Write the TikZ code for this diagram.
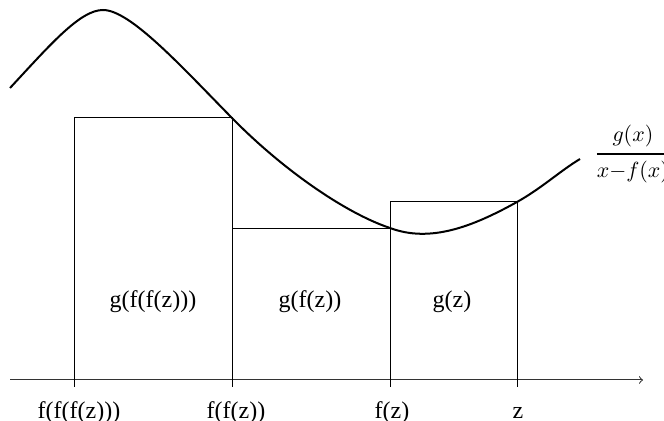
\documentclass[tikz,border=0pt]{standalone}
\usepackage{amsmath}
\usepackage{fontspec}
\setmainfont{Liberation Serif}
\begin{document}
\begin{tikzpicture}[x=0.5pt,y=-0.5pt,
  curveline/.style={line width=1pt, line join=round},
  boxline/.style={line width=0.5pt},
  axisline/.style={line width=0.5pt, black!80, ->},
  lbl/.style={font=\fontsize{12}{14}\selectfont, inner sep=0pt}]
\useasboundingbox (0,0) rectangle (664,421);
% axis
\coordinate (axL) at (10,380);
\coordinate (axR) at (643,380);
\draw[axisline] (axL) -- (axR);
% tick/box corner coordinates
\coordinate (b1) at (74,387);
\coordinate (b2) at (232,387);
\coordinate (b3) at (390,387);
\coordinate (b4) at (517,387);
\coordinate (c1) at (74,118);
\coordinate (c2) at (232,118);
\coordinate (d1) at (232,229);
\coordinate (d2) at (390,229);
\coordinate (e1) at (390,202);
\coordinate (e2) at (517,202);
% boxes
\draw[boxline] (b1) -- (c1) -- (c2) -- (b2);
\draw[boxline] (b2) -- (d1) -- (d2) -- (b3);
\draw[boxline] (b3) -- (e1) -- (e2) -- (b4);
% curve
\coordinate (s) at (10,88);
\coordinate (pk) at (103,10);
\coordinate (e) at (580,159);
\draw[curveline] (s) .. controls (50,45) and (80,10) .. (pk)
  .. controls (130,10) and (180,65) .. (c2)
  .. controls (282,169) and (345,213) .. (390,228)
  .. controls (430,243) and (472,227) .. (e2)
  .. controls (542,188) and (560,171) .. (e);
% labels
\node[lbl] (l1) at (153,302) {g(f(f(z)))};
\node[lbl] (l2) at (310,302) {g(f(z))};
\node[lbl] (l3) at (452,302) {g(z)};
\node[lbl] (x1) at (79,413) {f(f(f(z)))};
\node[lbl] (x2) at (236,413) {f(f(z))};
\node[lbl] (x3) at (392,413) {f(z)};
\node[lbl] (x4) at (518,413) {z};
\node[inner sep=0pt, anchor=west, font=\fontsize{10.5}{12}\selectfont] (fr) at (594,154)
  {$\genfrac{}{}{1pt}{0}{g(x)}{x{-}f(x)}$};
\end{tikzpicture}
\end{document}
